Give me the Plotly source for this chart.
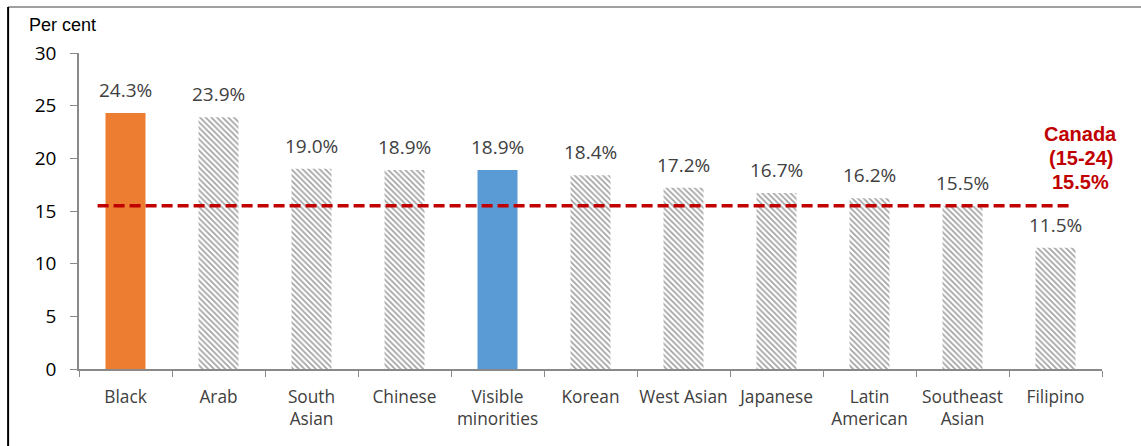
import plotly.graph_objects as go

# Youth unemployment rate by group (per cent)
categories = ["Black", "Arab", "South<br>Asian", "Chinese", "Visible<br>minorities",
              "Korean", "West Asian", "Japanese", "Latin<br>American",
              "Southeast<br>Asian", "Filipino"]
values = [24.3, 23.9, 19.0, 18.9, 18.9, 18.4, 17.2, 16.7, 16.2, 15.5, 11.5]
labels = ["24.3%", "23.9%", "19.0%", "18.9%", "18.9%", "18.4%", "17.2%",
          "16.7%", "16.2%", "15.5%", "11.5%"]
canada_rate = 15.5
canada_lines = ["Canada", "(15-24)", "15.5%"]
y_ticks = [0, 5, 10, 15, 20, 25, 30]

FONT = "Open Sans"
highlight = {"Black": "#ED7D31", "Visible<br>minorities": "#5B9BD5"}

colors = [highlight.get(c, "white") for c in categories]
shapes_pattern = ["" if c in highlight else "\\" for c in categories]

fig = go.Figure()
fig.add_trace(go.Bar(
    x=categories,
    y=values,
    marker=dict(
        color=colors,
        line=dict(width=0),
        pattern=dict(shape=shapes_pattern, fgcolor="#c6c6c6", bgcolor="white",
                     size=4, solidity=0.42, fillmode="overlay"),
    ),
    hoverinfo="skip",
))

annotations = []
for c, v, t in zip(categories, values, labels):
    annotations.append(dict(x=c, y=v, text=t, showarrow=False, yanchor="bottom",
                            yshift=8, font=dict(family=FONT, size=19, color="#404040")))

# Canada reference label, one line per annotation for tight spacing
for i, line in enumerate(canada_lines):
    annotations.append(dict(x=10.27, y=canada_rate, xref="x", yref="y",
                            text=line, showarrow=False, yanchor="bottom",
                            yshift=11 + 24 * (len(canada_lines) - 1 - i),
                            font=dict(family="Liberation Sans, Arial", size=20,
                                      color="#C00000", weight="bold")))
annotations.append(dict(x=-0.0508, y=1.088, xref="paper", yref="paper", text="Per cent",
                        showarrow=False, xanchor="left", yanchor="middle",
                        font=dict(family="Liberation Sans, Arial", size=18, color="black")))

shapes = [
    # Canada average reference line
    dict(type="line", xref="x", yref="y", x0=-0.3, x1=10.15, y0=canada_rate, y1=canada_rate,
         line=dict(color="#C00000", width=3.5, dash="11px,5px")),
    # Frame edges
    dict(type="line", xref="paper", yref="paper", x0=-0.0693, x1=1.05, y0=1.1456, y1=1.1456,
         line=dict(color="#a0a0a0", width=2)),
    dict(type="line", xref="paper", yref="paper", x0=-0.0693, x1=-0.0693, y0=1.1456, y1=-0.26,
         line=dict(color="black", width=2)),
]

fig.update_layout(
    width=1141, height=446,
    margin=dict(l=79, r=39, t=53, b=77),
    paper_bgcolor="white", plot_bgcolor="white",
    showlegend=False,
    bargap=0.57,
    annotations=annotations,
    shapes=shapes,
    font=dict(family=FONT, size=17, color="#404040"),
)
fig.update_xaxes(
    type="category",
    range=[-0.5, len(categories) - 0.5],
    tickson="boundaries",
    tickangle=0,
    automargin=False,
    ticks="outside", ticklen=6, tickcolor="#898989",
    showline=True, linecolor="#898989", linewidth=1.5,
    tickfont=dict(family=FONT, size=17.3, color="#404040"),
    ticklabelstandoff=11,
    showgrid=False,
)
fig.update_yaxes(
    range=[0, 30],
    tickvals=y_ticks,
    automargin=False,
    ticks="outside", ticklen=7, tickcolor="#898989",
    showline=True, linecolor="#898989", linewidth=1.5,
    tickfont=dict(family=FONT, size=19, color="black"),
    ticklabelstandoff=10,
    showgrid=False, zeroline=False,
)

fig.write_html("out.html")
